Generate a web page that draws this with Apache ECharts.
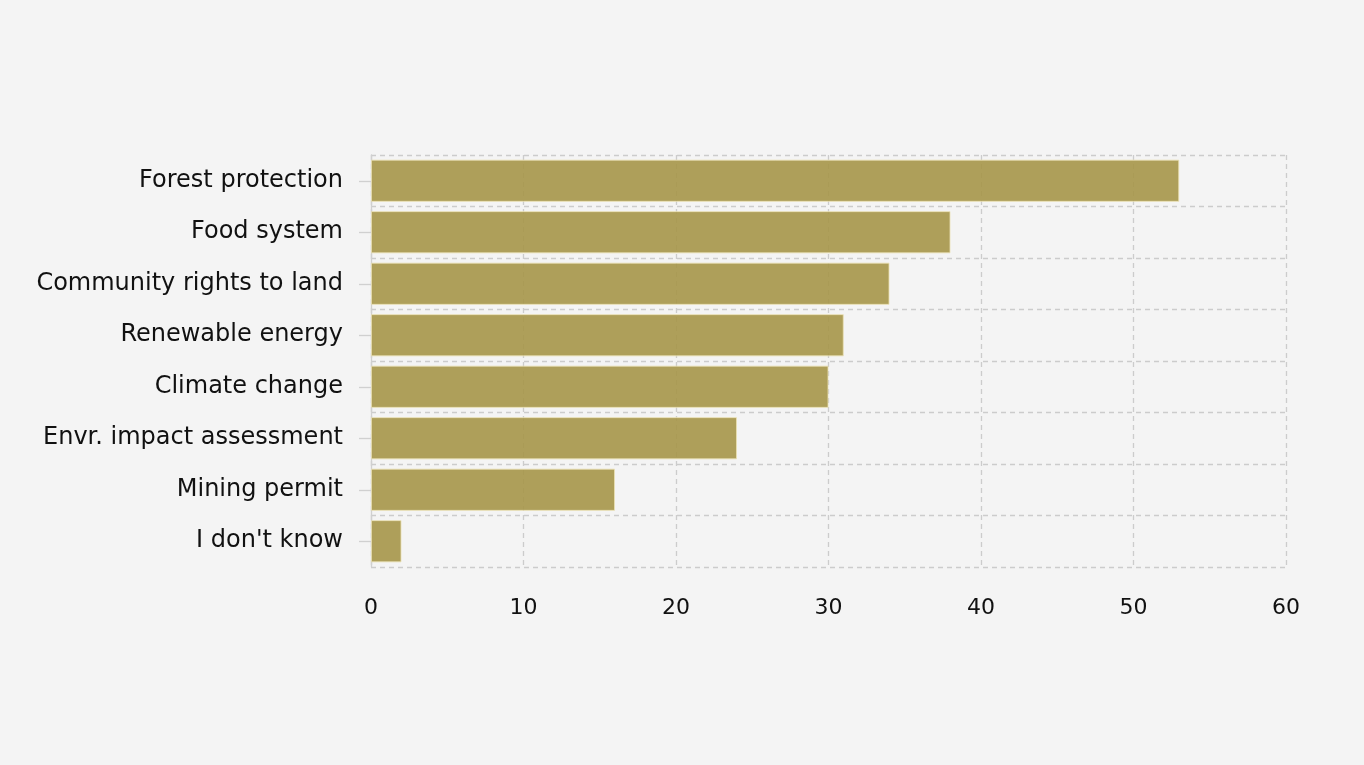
<!DOCTYPE html>
<html><head><meta charset="utf-8">
<script src="https://cdn.jsdelivr.net/npm/echarts@6/dist/echarts.min.js"></script>
<style>html,body{margin:0;padding:0;background:#f4f4f4;}#c{width:1364px;height:765px;}</style>
</head><body><div id="c"></div>
<script>
const categories = ["Forest protection","Food system","Community rights to land","Renewable energy","Climate change","Envr. impact assessment","Mining permit","I don't know"];
const values = [53,38,34,31,30,24,16,2];
const xTicks = [0,10,20,30,40,50,60];

const chart = echarts.init(document.getElementById('c'));
chart.setOption({
  backgroundColor:'#f4f4f4',
  animation:false,
  grid:{left:371,right:78,top:155,bottom:198,containLabel:false},
  xAxis:{type:'value',min:xTicks[0],max:xTicks[xTicks.length-1],interval:10,
    axisLine:{show:false},axisTick:{show:false},
    axisLabel:{color:'#111',fontSize:22,fontFamily:'DejaVu Sans',margin:30},
    splitLine:{show:true,lineStyle:{color:'#cccccc',type:[5,4],width:1.3}}},
  yAxis:{type:'category',data:categories,inverse:true,
    axisLine:{show:true,lineStyle:{color:'#d0d0d0',width:1.3}},
    axisTick:{show:true,alignWithLabel:true,length:12,lineStyle:{color:'#d0d0d0',width:1.3}},
    axisLabel:{color:'#111',fontSize:24,fontFamily:'DejaVu Sans',margin:28,padding:[8,0,0,0]},
    splitLine:{show:true,lineStyle:{color:'#cccccc',type:[5,4],width:1.3}}},
  series:[{type:'bar',data:values,barCategoryGap:'18%',
    itemStyle:{color:'rgba(166,150,73,0.9)',borderColor:'rgba(235,225,180,0.8)',borderWidth:1}}]
});
</script></body></html>
